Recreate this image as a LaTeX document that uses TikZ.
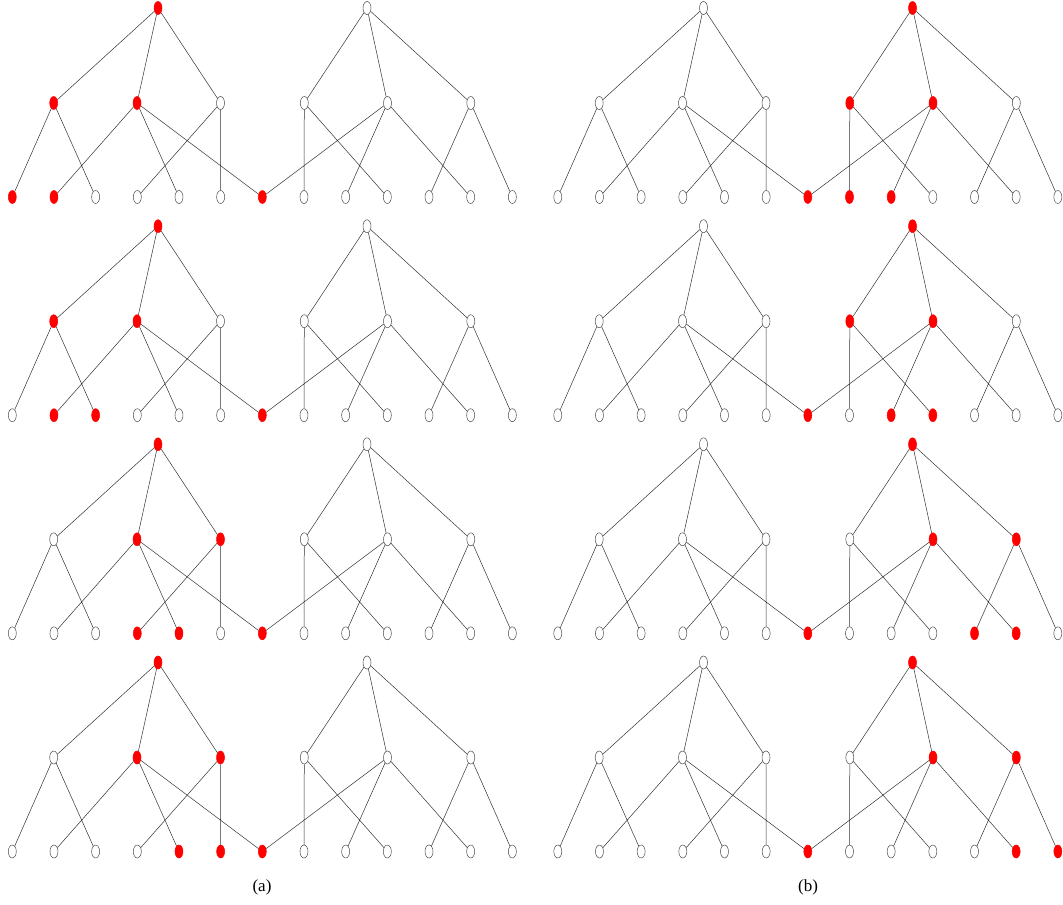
\documentclass[tikz,border=0pt]{standalone}
\usepackage{fontspec}
\setmainfont{Liberation Serif}
\usetikzlibrary{shapes.geometric}
\tikzset{
  vtx/.style={ellipse, minimum width=8pt, minimum height=13pt, inner sep=0pt, draw=black!70, line width=0.5pt, fill=white},
  hot/.style={ellipse, minimum width=8pt, minimum height=13pt, inner sep=0pt, draw=red, line width=0.5pt, fill=red},
  st/.code={\ifcsname hot@#1\endcsname\tikzset{hot}\else\tikzset{vtx}\fi},
  link/.style={draw=black!80, line width=0.5pt},
  captext/.style={font=\fontsize{17}{19}\selectfont, inner sep=0pt}
}
\newcommand\drawpanel[4]{%
  \foreach \h in {#4} {\expandafter\gdef\csname hot@#1\h\endcsname{}}%
  \begin{scope}[shift={(#2,#3)}]
    \node[st=#1r1] (#1r1) at (158,8) {};
    \node[st=#1r2] (#1r2) at (367,8) {};
    \node[st=#1m1] (#1m1) at (53.7,103) {};
    \node[st=#1m2] (#1m2) at (137,103) {};
    \node[st=#1m3] (#1m3) at (220.5,103) {};
    \node[st=#1m4] (#1m4) at (304.3,103) {};
    \node[st=#1m5] (#1m5) at (387.5,103) {};
    \node[st=#1m6] (#1m6) at (470.8,103) {};
    \foreach \i in {1,...,13} {
      \node[st=#1l\i] (#1l\i) at ({12.3+41.67*(\i-1)},197) {};
    }
    \draw[link] (#1r1) -- (#1m1) (#1r1) -- (#1m2) (#1r1) -- (#1m3)
                (#1r2) -- (#1m4) (#1r2) -- (#1m5) (#1r2) -- (#1m6)
                (#1m1) -- (#1l1) (#1m1) -- (#1l3)
                (#1m2) -- (#1l2) (#1m2) -- (#1l5) (#1m2) -- (#1l7)
                (#1m3) -- (#1l4) (#1m3) -- (#1l6)
                (#1m4) -- (#1l8) (#1m4) -- (#1l10)
                (#1m5) -- (#1l7) (#1m5) -- (#1l9) (#1m5) -- (#1l12)
                (#1m6) -- (#1l11) (#1m6) -- (#1l13);
  \end{scope}%
}
\begin{document}
\begin{tikzpicture}[x=1pt,y=-1pt]
  \useasboundingbox[fill=white] (0,0) rectangle (1063,905);
  \drawpanel{A1}{0}{0}{r1,m1,m2,l1,l2,l7}
  \drawpanel{A2}{0}{218.2}{r1,m1,m2,l2,l3,l7}
  \drawpanel{A3}{0}{436.3}{r1,m2,m3,l4,l5,l7}
  \drawpanel{A4}{0}{654.5}{r1,m2,m3,l5,l6,l7}
  \drawpanel{B1}{545.5}{0}{r2,m4,m5,l7,l8,l9}
  \drawpanel{B2}{545.5}{218.2}{r2,m4,m5,l7,l9,l10}
  \drawpanel{B3}{545.5}{436.3}{r2,m5,m6,l7,l11,l12}
  \drawpanel{B4}{545.5}{654.5}{r2,m5,m6,l7,l12,l13}
  \node[captext] (capa) at (262,887) {(a)};
  \node[captext] (capb) at (808,887) {(b)};
\end{tikzpicture}
\end{document}
